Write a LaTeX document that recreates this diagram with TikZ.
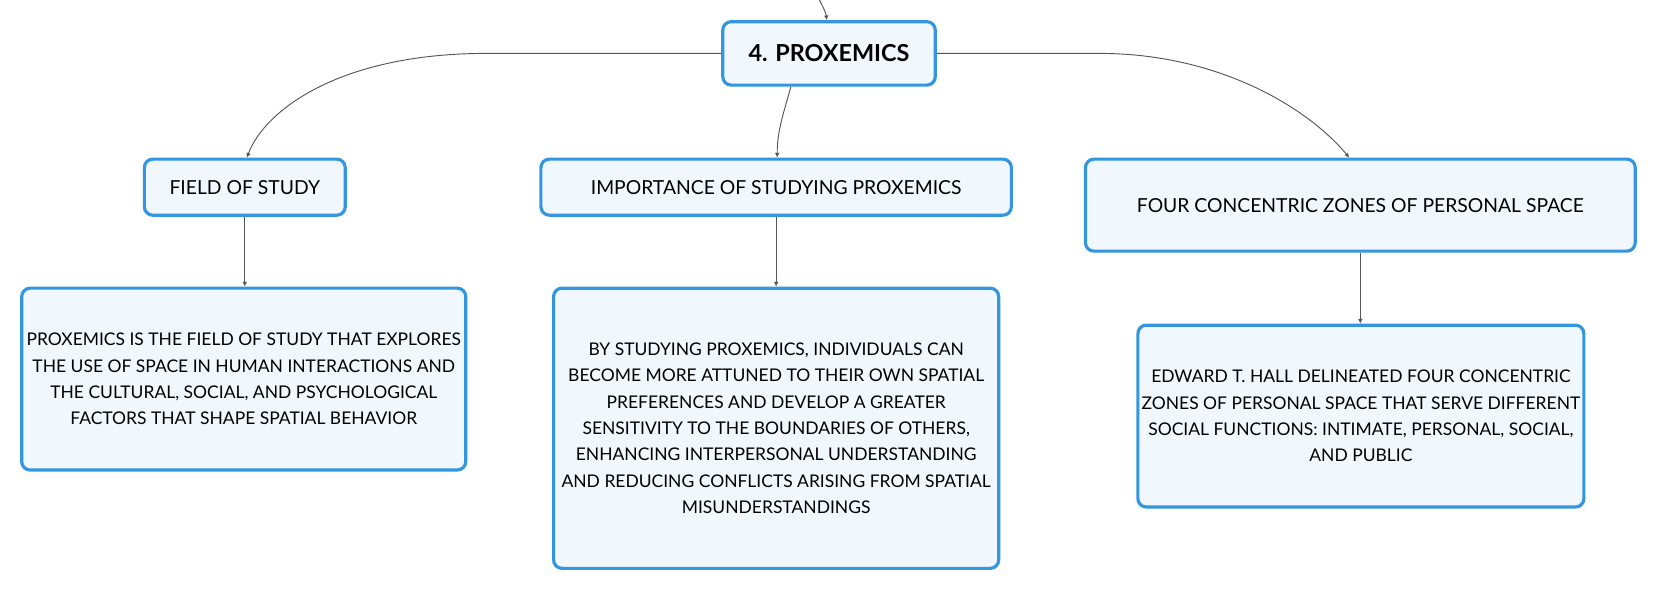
\documentclass[tikz,border=0pt]{standalone}
\usepackage{fontspec}
\setmainfont{Lato}
\usetikzlibrary{arrows.meta}
\definecolor{boxline}{RGB}{52,150,222}
\definecolor{boxfill}{RGB}{240,247,253}
\definecolor{linkgray}{RGB}{85,85,85}
\begin{document}
\begin{tikzpicture}[x=0.02cm,y=-0.02cm,
  topic/.style={draw=boxline,fill=boxfill,line width=1.7pt,rounded corners=4.5pt,align=center,inner sep=2pt},
  link/.style={draw=linkgray,line width=0.5pt,-{Latex[length=2.5pt,width=2.5pt]}},
  leaftext/.style={font=\fontsize{9.4}{14.2}\selectfont}]
\useasboundingbox (0,0) rectangle (1568,559);
\node[topic,minimum width=4.02cm,minimum height=1.2cm,font=\fontsize{12.6}{15}\selectfont\bfseries](root) at (784,50.5){4. PROXEMICS};
\node[topic,minimum width=3.8cm,minimum height=1.06cm,font=\fontsize{10.4}{13}\selectfont](field) at (231.5,177){FIELD OF STUDY};
\node[topic,minimum width=8.9cm,minimum height=1.06cm,font=\fontsize{10.4}{13}\selectfont](imp) at (734,177){IMPORTANCE OF STUDYING PROXEMICS};
\node[topic,minimum width=10.4cm,minimum height=1.74cm,font=\fontsize{10.4}{13}\selectfont](zones) at (1286.5,194){FOUR CONCENTRIC ZONES OF PERSONAL SPACE};
\node[topic,leaftext,minimum width=8.4cm,minimum height=3.44cm](fielddef) at (230.5,358.5){PROXEMICS IS THE FIELD OF STUDY THAT EXPLORES\\THE USE OF SPACE IN HUMAN INTERACTIONS AND\\THE CULTURAL, SOCIAL, AND PSYCHOLOGICAL\\FACTORS THAT SHAPE SPATIAL BEHAVIOR};
\node[topic,leaftext,minimum width=8.42cm,minimum height=5.3cm](impdef) at (734,405){BY STUDYING PROXEMICS, INDIVIDUALS CAN\\BECOME MORE ATTUNED TO THEIR OWN SPATIAL\\PREFERENCES AND DEVELOP A GREATER\\SENSITIVITY TO THE BOUNDARIES OF OTHERS,\\ENHANCING INTERPERSONAL UNDERSTANDING\\AND REDUCING CONFLICTS ARISING FROM SPATIAL\\MISUNDERSTANDINGS};
\node[topic,leaftext,minimum width=8.42cm,minimum height=3.44cm](zonesdef) at (1287,393.5){EDWARD T. HALL DELINEATED FOUR CONCENTRIC\\ZONES OF PERSONAL SPACE THAT SERVE DIFFERENT\\SOCIAL FUNCTIONS: INTIMATE, PERSONAL, SOCIAL,\\AND PUBLIC};
\coordinate (parent) at (775,0);
% links from the parent topic
\draw[link] (parent) .. controls (779,8) and (781,12) .. ([xshift=-0.04cm]root.north);
\draw[link] (root.west) -- (460,50.5) .. controls (320,50.5) and (250,105) .. ([xshift=0.04cm]field.north);
\draw[link] ([xshift=-0.72cm]root.south) .. controls (740,110) and (735,125) .. ([xshift=0.02cm]imp.north);
\draw[link] (root.east) -- (1040,50.5) .. controls (1150,50.5) and (1235,100) .. ([xshift=-0.21cm]zones.north);
% links down to the details
\draw[link] (field) -- (field|-fielddef.north);
\draw[link] (imp) -- (imp|-impdef.north);
\draw[link] (zones) -- (zones|-zonesdef.north);
\end{tikzpicture}
\end{document}
